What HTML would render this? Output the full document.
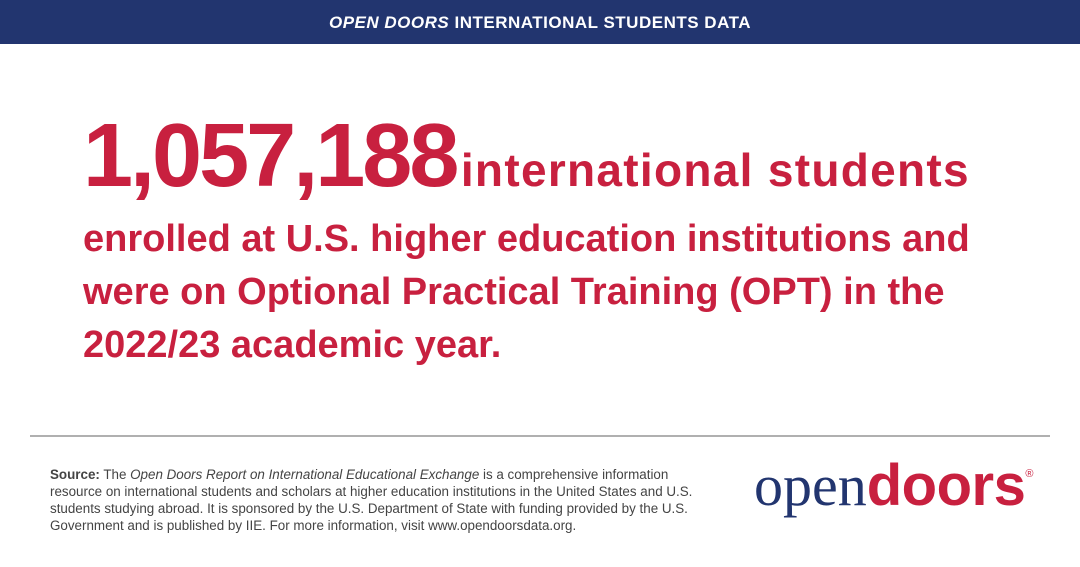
<!DOCTYPE html>
<html><head><meta charset="utf-8"><style>
body{margin:0;width:1080px;height:567px;background:#fff;position:relative;overflow:hidden;font-family:"Liberation Sans",sans-serif}
.hdr{position:absolute;left:0;top:0;width:1080px;height:44px;background:#22356f;color:#fff;font-weight:bold;font-size:17px;letter-spacing:0.5px;text-align:center;line-height:45px}
.red{color:#c8203f;font-weight:bold;position:absolute;left:83px;white-space:nowrap}
.big{font-size:90px;letter-spacing:-3px}
.hr{position:absolute;left:30px;top:435px;width:1020px;height:2px;background:#b0b0b0}
.src{position:absolute;left:50px;top:466px;width:668px;font-size:13.4px;line-height:17px;color:#444}
.logo{position:absolute;left:754px;top:452px;white-space:nowrap;font-size:58px}
</style></head><body>
<div class="hdr"><i>OPEN DOORS</i> INTERNATIONAL STUDENTS DATA</div>
<div class="red" style="top:105px"><span class="big">1,057,188</span> <span style="font-size:46px;letter-spacing:1.3px">international students</span></div>
<div class="red" style="top:213px;font-size:38px;line-height:53px">enrolled at U.S. higher education institutions and<br>were on Optional Practical Training (OPT) in the<br>2022/23 academic year.</div>
<div class="hr"></div>
<div class="src"><b>Source:</b> The <i>Open Doors Report on International Educational Exchange</i> is a comprehensive information resource on international students and scholars at higher education institutions in the United States and U.S. students studying abroad. It is sponsored by the U.S. Department of State with funding provided by the U.S. Government and is published by IIE. For more information, visit www.opendoorsdata.org.</div>
<div class="logo"><span style="font-family:'Liberation Serif',serif;color:#22356f">open</span><span style="font-weight:bold;color:#c8203f;letter-spacing:-0.5px">doors</span><sup style="font-size:11px;color:#c8203f;vertical-align:28px">®</sup></div>
</body></html>
